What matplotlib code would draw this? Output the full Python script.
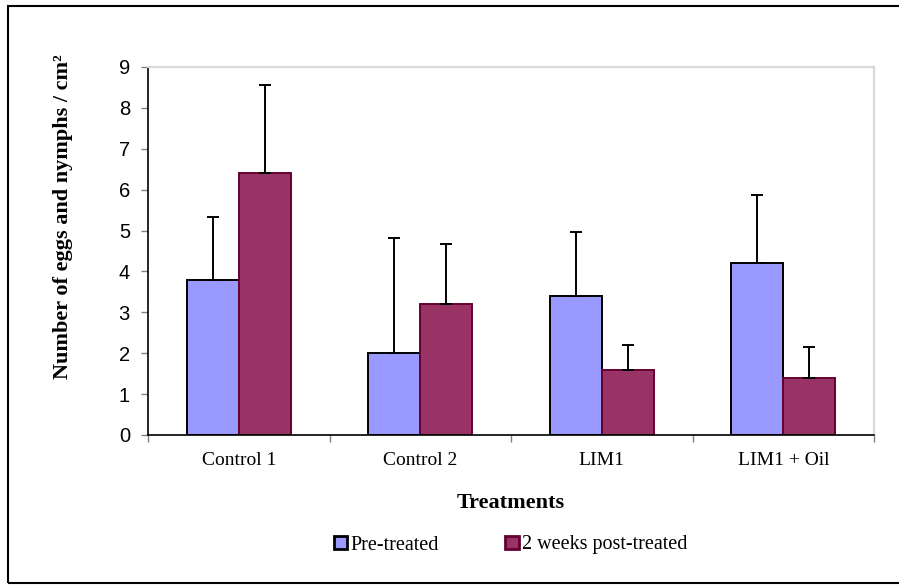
import numpy as np
import matplotlib.pyplot as plt
from matplotlib.patches import Rectangle

# data
categories = ["Control 1", "Control 2", "LIM1", "LIM1 + Oil"]
pre_treated = [3.8, 2.0, 3.4, 4.2]
pre_err = [1.53, 2.82, 1.57, 1.67]
post_treated = [6.4, 3.2, 1.6, 1.4]
post_err = [2.17, 1.47, 0.59, 0.75]
y_ticks = list(range(0, 10))

PRE_COLOR = "#9999FF"
POST_COLOR = "#993366"
SERIF = ["Liberation Serif", "DejaVu Serif"]
SANS = ["Liberation Sans", "DejaVu Sans"]

fig = plt.figure(figsize=(8.99, 5.85), dpi=100)
ax = fig.add_axes([148 / 899, 1 - 435 / 585, (874 - 148) / 899, (435 - 67) / 585])

x = np.arange(len(categories))
w = 1 / 3.5  # gap width 150%

err_kw = dict(ecolor="black", elinewidth=1.4, capsize=4.5, capthick=1.4)
ax.bar(x - w / 2, pre_treated, w, color=PRE_COLOR, edgecolor="black", linewidth=1.4,
       yerr=[np.zeros(4), pre_err], error_kw=err_kw, label="Pre-treated", zorder=2)
ax.bar(x + w / 2, post_treated, w, color=POST_COLOR, edgecolor="#660033", linewidth=1.4,
       yerr=[np.zeros(4), post_err], error_kw=err_kw, label="2 weeks post-treated", zorder=2)

ax.set_xlim(-0.5, len(categories) - 0.5)
ax.set_ylim(0, 9)
ax.set_yticks(y_ticks)
ax.set_yticklabels([str(t) for t in y_ticks], family=SANS, fontsize=14.5)
ax.set_xticks(np.arange(-0.5, len(categories), 1.0))
ax.set_xticklabels([])
ax.set_xticks(x, minor=True)
ax.set_xticklabels(categories, minor=True, family=SERIF, fontsize=14)
ax.tick_params(axis="x", which="minor", length=0, pad=12)
ax.tick_params(axis="x", which="major", length=5, color="#808080", width=1)
ax.tick_params(axis="y", length=5, color="#808080", width=1, pad=8)

ax.spines["left"].set_color("black")
ax.spines["bottom"].set_color("black")
ax.spines["left"].set_linewidth(1.2)
ax.spines["bottom"].set_linewidth(1.2)
for s in ("top", "right"):
    ax.spines[s].set_color("#d9d9d9")
    ax.spines[s].set_linewidth(1.6)

ax.set_xlabel("Treatments", family=SERIF, fontsize=16, fontweight="bold", labelpad=17.5)
ax.set_ylabel("Number of eggs and nymphs / cm²", family=SERIF, fontsize=16,
              fontweight="bold")
ax.yaxis.set_label_coords((73 - 148) / 726, (435 - 217) / 368)

leg = fig.legend(loc="center left", bbox_to_anchor=(324 / 899, 1 - 545 / 585), ncol=2,
                 frameon=False, borderpad=0, prop={"family": SERIF, "size": 14.5},
                 handlelength=0.66, handleheight=0.66, handletextpad=0.15,
                 columnspacing=3.3)
for h, ec in zip(leg.legend_handles, ["black", "#660033"]):
    h.set_edgecolor(ec)
    h.set_linewidth(2.0)

# outer chart frame
fig.patches.append(Rectangle((8 / 899, 1 - 583 / 585), 1.0, (583 - 6) / 585,
                             transform=fig.transFigure, fill=False,
                             edgecolor="black", linewidth=1.5))

fig.savefig("out.png", dpi=100)
